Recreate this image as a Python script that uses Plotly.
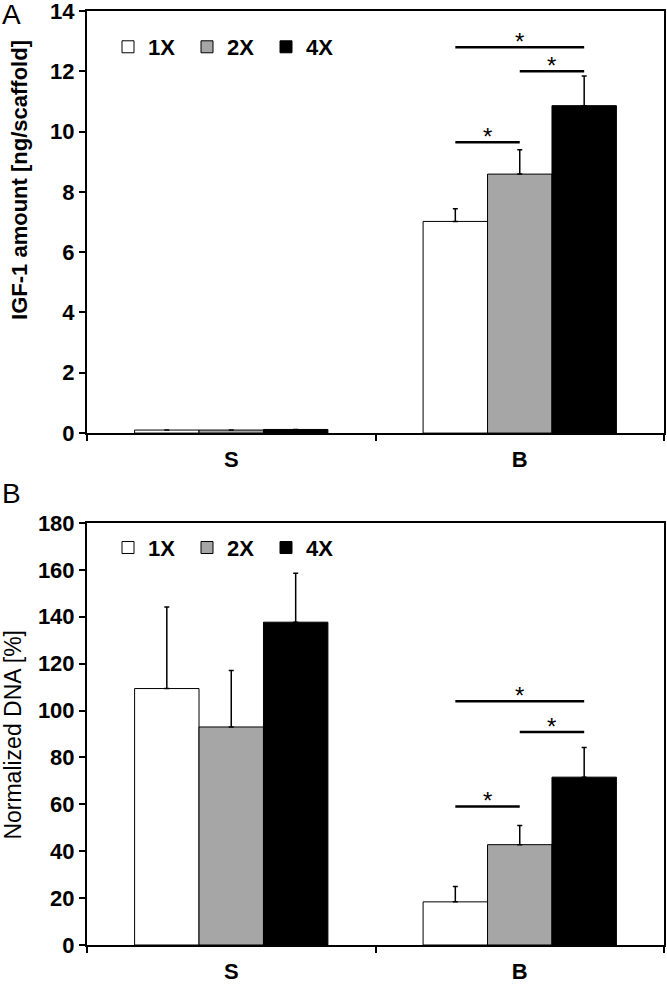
import plotly.graph_objects as go
from plotly.subplots import make_subplots

# ---------------- data ----------------
categories = ["S", "B"]
series_names = ["1X", "2X", "4X"]

igf_1x = [0.10, 7.02]
igf_2x = [0.10, 8.59]
igf_4x = [0.12, 10.86]
igf_err_1x = [None, 0.42]
igf_err_2x = [None, 0.81]
igf_err_4x = [None, 0.98]

dna_1x = [109.4, 18.4]
dna_2x = [93.0, 42.8]
dna_4x = [137.7, 71.6]
dna_err_1x = [34.8, 6.6]
dna_err_2x = [24.1, 8.2]
dna_err_4x = [20.9, 12.7]

sig_pairs = [(0, 2), (1, 2), (0, 1)]
igf_sig_y = [12.8, 12.0, 9.65]
dna_sig_y = [104.0, 90.9, 59.1]
sig_category_index = 1  # "B"

title_a = "IGF-1 amount [ng/scaffold]"
title_b = "Normalized DNA [%]"

# ---------------- style ----------------
colors = ["#ffffff", "#a6a6a6", "#000000"]
FONT = "Liberation Sans, Arial, sans-serif"
W, H = 667, 984
ML, MR, MT, MB = 87, 3, 11, 38.5
plot_w = W - ML - MR
plot_h = H - MT - MB
BARGAP = 0.33


def px_x(px):
    return (px - ML) / plot_w


def px_y(py):
    return 1 - (py - MT) / plot_h


fig = make_subplots(rows=2, cols=1)

panels = [
    (1, [igf_1x, igf_2x, igf_4x], [igf_err_1x, igf_err_2x, igf_err_4x], "legend"),
    (2, [dna_1x, dna_2x, dna_4x], [dna_err_1x, dna_err_2x, dna_err_4x], "legend2"),
]
for row, vals, errs, lg in panels:
    for i, name in enumerate(series_names):
        err = [float("nan") if e is None else e for e in errs[i]]
        fig.add_trace(
            go.Bar(
                x=categories, y=vals[i], name=name, legend=lg,
                marker=dict(color=colors[i], line=dict(color="black", width=1)),
                error_y=dict(type="data", symmetric=False, array=err,
                             arrayminus=[0] * len(err), color="black",
                             thickness=1.5, width=2.5),
            ),
            row=row, col=1,
        )

bar_w = (1 - BARGAP) / 3
offsets = [(i - 1) * bar_w for i in range(3)]

for row, sig_y in [(1, igf_sig_y), (2, dna_sig_y)]:
    xr = "x" if row == 1 else "x2"
    yr = "y" if row == 1 else "y2"
    for (a, b), yv in zip(sig_pairs, sig_y):
        x0 = sig_category_index + offsets[a]
        x1 = sig_category_index + offsets[b]
        fig.add_shape(type="line", xref=xr, yref=yr, x0=x0, x1=x1, y0=yv, y1=yv,
                      line=dict(color="black", width=2.5))
        fig.add_annotation(xref=xr, yref=yr, x=(x0 + x1) / 2, y=yv, text="*",
                           showarrow=False, yanchor="bottom", yshift=-10,
                           font=dict(family=FONT, size=24, color="black"))

axis_common = dict(showline=True, linecolor="black", linewidth=2, mirror=True,
                   ticks="outside", ticklen=6, tickwidth=1.5, tickcolor="black",
                   showgrid=False, zeroline=False, automargin=False,
                   ticklabeloverflow="allow",
                   tickfont=dict(family=FONT, size=22, color="black", weight="bold"))

gap = 90
hA = 422.3
hB = plot_h - gap - hA
fig.update_yaxes(axis_common, row=1, col=1, range=[0, 14], dtick=2,
                 domain=[1 - hA / plot_h, 1])
fig.update_yaxes(axis_common, row=2, col=1, range=[0, 180], dtick=20,
                 domain=[0, hB / plot_h])
fig.update_xaxes(axis_common, tickson="boundaries", ticklabelstandoff=6,
                 range=[-0.5, 1.5])

legend_common = dict(orientation="h", xanchor="left", yanchor="top",
                     bgcolor="rgba(0,0,0,0)", itemclick=False,
                     entrywidth=34, entrywidthmode="pixels",
                     font=dict(family=FONT, size=22, color="black", weight="bold"),
                     traceorder="normal", tracegroupgap=0)
fig.update_layout(
    width=W, height=H,
    margin=dict(l=ML, r=MR, t=MT, b=MB, autoexpand=False),
    plot_bgcolor="white", paper_bgcolor="white",
    barmode="group", bargap=BARGAP, bargroupgap=0,
    legend=dict(legend_common, x=px_x(108), y=px_y(26)),
    legend2=dict(legend_common, x=px_x(108), y=px_y(527)),
    font=dict(family=FONT, color="black"),
    hovermode=False,
)

# y-axis titles
fig.add_annotation(xref="paper", yref="paper", x=px_x(20), y=px_y(180),
                   xanchor="center", yanchor="middle", textangle=-90,
                   text=title_a, showarrow=False,
                   font=dict(family=FONT, size=22, color="black", weight="bold"))
fig.add_annotation(xref="paper", yref="paper", x=px_x(13), y=px_y(735),
                   xanchor="center", yanchor="middle", textangle=-90,
                   text=title_b, showarrow=False,
                   font=dict(family=FONT, size=23, color="black"))

# panel letters
fig.add_annotation(xref="paper", yref="paper", x=px_x(0), y=px_y(15),
                   xanchor="left", yanchor="middle",
                   text="A", showarrow=False, font=dict(family=FONT, size=28, color="black"))
fig.add_annotation(xref="paper", yref="paper", x=px_x(0), y=px_y(494),
                   xanchor="left", yanchor="middle",
                   text="B", showarrow=False, font=dict(family=FONT, size=28, color="black"))

fig.write_html(
    "out.html",
    config={"displayModeBar": False},
    post_script="document.body.style.margin='0';document.body.style.padding='0';",
)
